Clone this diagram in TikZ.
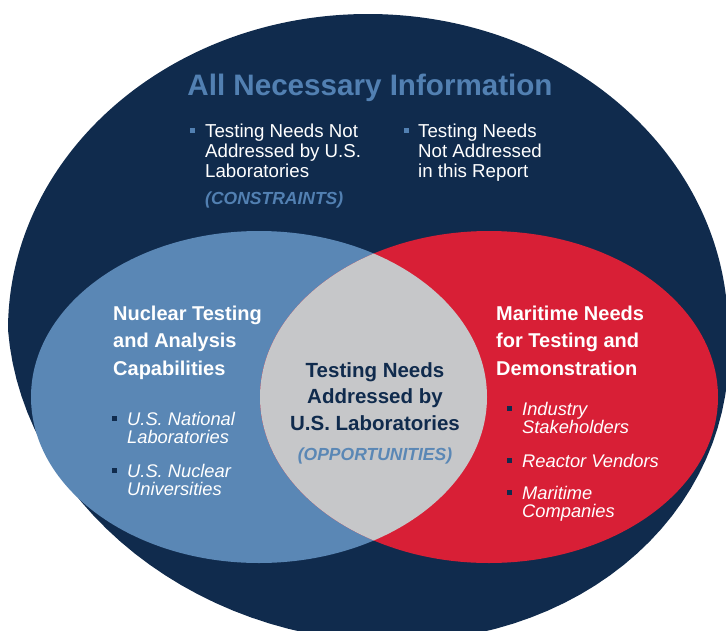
\documentclass[tikz,border=0pt]{standalone}
\usepackage{fontspec}
\setmainfont{Liberation Sans}
\usetikzlibrary{positioning}

\definecolor{navy}{HTML}{102B4D}
\definecolor{steel}{HTML}{5A87B5}
\definecolor{titleblue}{HTML}{5280B2}
\definecolor{venred}{HTML}{D81F36}
\definecolor{overlap}{HTML}{C6C7C9}

% multi-line nodes sit on the baseline of their last line
\tikzset{
  heading/.style={text=white, font=\bfseries\fontsize{20}{27.5}\selectfont,
    align=left, anchor=base west, inner sep=0pt},
  note/.style={text=white, font=\fontsize{18.7}{20}\selectfont,
    align=left, anchor=base west, inner sep=0pt},
  item/.style={text=white, font=\itshape\fontsize{18.3}{18}\selectfont,
    align=left, anchor=base west, inner sep=0pt},
  tag/.style={text=#1, font=\bfseries\itshape\fontsize{17.5}{20}\selectfont,
    inner sep=0pt},
  sqbullet/.style={fill=#1, minimum size=5pt, inner sep=0pt},
}

\begin{document}
\begin{tikzpicture}[x=1pt, y=-1pt]
    \useasboundingbox (0,0) rectangle (726,630);

    % Outer region: round top, lower half leaning a little to the right
    \fill[navy] (8,330) arc[start angle=180, end angle=360, x radius=360, y radius=316]
      -- plot[domain=0:180, samples=60, variable=\t]
         ({368+360*cos(\t)+25*sin(\t)}, {330+312*sin(\t)}) -- cycle;

    % Two sets and their overlap
    \fill[steel] (259,397) ellipse [x radius=228, y radius=166];
    \fill[venred] (489,397) ellipse [x radius=229, y radius=166];
    \begin{scope}
      \clip (259,397) ellipse [x radius=228, y radius=166];
      \fill[overlap] (489,397) ellipse [x radius=229, y radius=166];
    \end{scope}

    % Top part
    \node[text=titleblue, font=\bfseries\fontsize{29.6}{32}\selectfont,
      anchor=base, inner sep=0pt] (title) at (370,95) {All Necessary Information};
    \node[sqbullet=titleblue] (b1) at (192,130.5) {};
    \node[note] (notA) at (205,177) {Testing Needs Not\\Addressed by U.S.\\Laboratories};
    \node[tag=titleblue, anchor=base west] (cons) at (205,204) {(CONSTRAINTS)};
    \node[sqbullet=titleblue] (b2) at (406.5,130.5) {};
    \node[note] (notB) at (418,177) {Testing Needs\\Not Addressed\\in this Report};

    % Left set
    \node[heading] (nuc) at (113,375) {Nuclear Testing\\and Analysis\\Capabilities};
    \node[sqbullet=navy] (b3) at (114,418) {};
    \node[item] (labs) at (127,443) {U.S. National\\Laboratories};
    \node[sqbullet=navy] (b4) at (114,470) {};
    \node[item] (univ) at (127,495) {U.S. Nuclear\\Universities};

    % Right set
    \node[heading] (mar) at (496,375) {Maritime Needs\\for Testing and\\Demonstration};
    \node[sqbullet=navy] (b5) at (509,408.5) {};
    \node[item] (ind) at (522,433) {Industry\\Stakeholders};
    \node[sqbullet=navy] (b6) at (509,460.5) {};
    \node[item] (vend) at (522,467) {Reactor Vendors};
    \node[sqbullet=navy] (b7) at (509,492.5) {};
    \node[item] (comp) at (522,517) {Maritime\\Companies};

    % Overlap
    \node[text=navy, font=\bfseries\fontsize{20.5}{26.5}\selectfont, align=center,
      anchor=base, inner sep=0pt] (opp) at (375,430)
      {Testing Needs\\Addressed by\\U.S. Laboratories};
    \node[tag=steel, anchor=base] (opptag) at (375,460) {(OPPORTUNITIES)};

\end{tikzpicture}
\end{document}
